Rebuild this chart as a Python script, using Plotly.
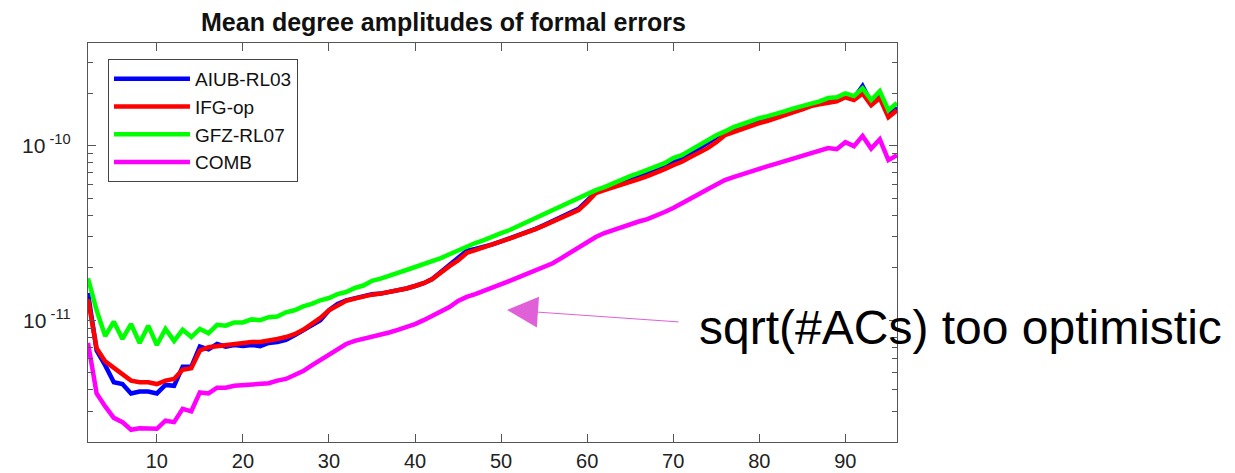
import math
import plotly.graph_objects as go

# Spherical harmonic degree
degrees = list(range(2, 97))

aiub_rl03 = [14.3e-12, 6.7e-12, 5.5e-12, 4.4e-12, 4.3e-12, 3.8e-12, 3.9e-12, 3.9e-12, 3.8e-12, 4.25e-12,
             4.2e-12, 5.4e-12, 5.4e-12, 7.05e-12, 6.8e-12, 7.3e-12, 7.05e-12, 7.2e-12, 7.1e-12, 7.2e-12,
             7.1e-12, 7.4e-12, 7.5e-12, 7.7e-12, 8.2e-12, 8.8e-12, 9.4e-12, 10.0e-12, 11.4e-12, 12.4e-12,
             13.0e-12, 13.4e-12, 13.8e-12, 14.1e-12, 14.2e-12, 14.5e-12, 14.8e-12, 15.2e-12, 15.7e-12, 16.3e-12,
             17.2e-12, 18.8e-12, 20.6e-12, 22.6e-12, 25.0e-12, 25.6e-12, 26.3e-12, 27.2e-12, 28.3e-12, 29.4e-12,
             30.6e-12, 31.8e-12, 33.4e-12, 35.1e-12, 37.0e-12, 39.0e-12, 41.2e-12, 43.5e-12, 48.5e-12, 54.0e-12,
             56.8e-12, 59.0e-12, 61.0e-12, 64.0e-12, 66.5e-12, 69.0e-12, 72.5e-12, 76.0e-12, 80.5e-12, 84.5e-12,
             90.0e-12, 96.0e-12, 104e-12, 112e-12, 118e-12, 124e-12, 129e-12, 134e-12, 139e-12, 143e-12,
             149e-12, 154e-12, 160e-12, 166e-12, 173e-12, 177e-12, 184e-12, 185e-12, 195e-12, 188e-12,
             220e-12, 176e-12, 196e-12, 152e-12, 166e-12]

ifg_op = [13.2e-12, 6.9e-12, 5.8e-12, 5.3e-12, 4.9e-12, 4.5e-12, 4.4e-12, 4.4e-12, 4.3e-12, 4.5e-12,
          4.6e-12, 5.2e-12, 5.3e-12, 6.7e-12, 7.0e-12, 7.1e-12, 7.2e-12, 7.3e-12, 7.4e-12, 7.5e-12,
          7.5e-12, 7.6e-12, 7.8e-12, 8.0e-12, 8.3e-12, 8.8e-12, 9.5e-12, 10.3e-12, 11.4e-12, 12.2e-12,
          12.9e-12, 13.3e-12, 13.7e-12, 14.0e-12, 14.2e-12, 14.5e-12, 14.8e-12, 15.2e-12, 15.7e-12, 16.3e-12,
          17.2e-12, 18.8e-12, 20.4e-12, 22.0e-12, 24.3e-12, 25.2e-12, 26.1e-12, 27.2e-12, 28.3e-12, 29.4e-12,
          30.6e-12, 31.8e-12, 33.3e-12, 34.9e-12, 36.6e-12, 38.3e-12, 40.4e-12, 42.8e-12, 47.6e-12, 53.6e-12,
          55.7e-12, 57.6e-12, 59.5e-12, 61.9e-12, 64.4e-12, 67.0e-12, 69.8e-12, 73.5e-12, 77.5e-12, 81.0e-12,
          86.2e-12, 90.8e-12, 97.0e-12, 105e-12, 115e-12, 120e-12, 125e-12, 130e-12, 135e-12, 139e-12,
          145e-12, 151e-12, 156e-12, 162e-12, 169e-12, 173e-12, 176e-12, 180e-12, 190e-12, 183e-12,
          200e-12, 171e-12, 188e-12, 146e-12, 160e-12]

gfz_rl07 = [17.4e-12, 11.4e-12, 8.1e-12, 9.8e-12, 7.8e-12, 9.5e-12, 7.4e-12, 9.3e-12, 7.2e-12, 8.9e-12,
            7.6e-12, 8.8e-12, 8.0e-12, 8.9e-12, 8.4e-12, 9.4e-12, 9.3e-12, 9.7e-12, 9.7e-12, 10.1e-12,
            10.0e-12, 10.4e-12, 10.5e-12, 11.1e-12, 11.4e-12, 12.0e-12, 12.4e-12, 13.0e-12, 13.4e-12, 14.1e-12,
            14.5e-12, 15.3e-12, 15.8e-12, 16.8e-12, 17.3e-12, 18.1e-12, 18.7e-12, 19.4e-12, 20.1e-12, 20.9e-12,
            21.8e-12, 22.7e-12, 23.9e-12, 25.2e-12, 26.6e-12, 27.7e-12, 28.8e-12, 30.4e-12, 31.6e-12, 32.9e-12,
            34.7e-12, 36.6e-12, 38.6e-12, 40.7e-12, 42.8e-12, 45.1e-12, 47.6e-12, 50.1e-12, 52.9e-12, 55.7e-12,
            58.0e-12, 61.1e-12, 63.6e-12, 67.0e-12, 69.8e-12, 72.6e-12, 76.5e-12, 79.6e-12, 85.0e-12, 88.4e-12,
            94.5e-12, 101e-12, 108e-12, 115e-12, 121e-12, 128e-12, 133e-12, 139e-12, 144e-12, 148e-12,
            154e-12, 158e-12, 164e-12, 169e-12, 176e-12, 180e-12, 188e-12, 190e-12, 200e-12, 193e-12,
            214e-12, 183e-12, 206e-12, 160e-12, 176e-12]

comb = [7.4e-12, 3.8e-12, 3.2e-12, 2.75e-12, 2.6e-12, 2.35e-12, 2.4e-12, 2.4e-12, 2.38e-12, 2.65e-12,
        2.6e-12, 3.1e-12, 3.0e-12, 3.85e-12, 3.8e-12, 4.1e-12, 4.1e-12, 4.2e-12, 4.25e-12, 4.25e-12,
        4.3e-12, 4.35e-12, 4.5e-12, 4.6e-12, 4.85e-12, 5.1e-12, 5.5e-12, 5.9e-12, 6.4e-12, 6.8e-12,
        7.3e-12, 7.6e-12, 7.8e-12, 8.0e-12, 8.2e-12, 8.5e-12, 8.8e-12, 9.1e-12, 9.5e-12, 10.0e-12,
        10.6e-12, 11.2e-12, 11.9e-12, 12.9e-12, 13.6e-12, 14.1e-12, 14.7e-12, 15.3e-12, 15.9e-12, 16.8e-12,
        17.6e-12, 18.4e-12, 19.2e-12, 20.1e-12, 21.2e-12, 22.7e-12, 24.3e-12, 25.9e-12, 28.1e-12, 30.0e-12,
        31.6e-12, 32.9e-12, 34.3e-12, 35.6e-12, 36.8e-12, 38.0e-12, 39.6e-12, 41.7e-12, 44.0e-12, 46.6e-12,
        49.5e-12, 52.9e-12, 56.4e-12, 60.3e-12, 63.6e-12, 66.2e-12, 68.9e-12, 71.6e-12, 74.0e-12, 76.5e-12,
        79.1e-12, 81.7e-12, 84.5e-12, 87.3e-12, 89.6e-12, 93.2e-12, 97.0e-12, 95.7e-12, 105e-12, 99.6e-12,
        114e-12, 96.4e-12, 109e-12, 82.8e-12, 88.4e-12]

series_names = ["AIUB-RL03", "IFG-op", "GFZ-RL07", "COMB"]
series_values = [aiub_rl03, ifg_op, gfz_rl07, comb]
series_colors = ["#0000FF", "#FF0000", "#00FF00", "#FF00FF"]

x_tick_vals = [10, 20, 30, 40, 50, 60, 70, 80, 90]
y_tick_vals = [1e-11, 1e-10]
y_tick_text = ["10<sup> -11</sup>", "10<sup> -10</sup>"]
y_minor_vals = [m * 10.0 ** e for e in (-12, -11, -10) for m in range(2, 10) if 2e-12 <= m * 10.0 ** e <= 3.9e-10]

FONT = "Liberation Sans, Arial, Helvetica, sans-serif"
AX = "#555555"

fig = go.Figure()
for name, vals, col in zip(series_names, series_values, series_colors):
    fig.add_trace(go.Scatter(x=degrees, y=vals, mode="lines", name=name,
                             line=dict(color=col, width=4.5)))

fig.update_layout(
    width=1235, height=473,
    margin=dict(l=88, r=338, t=43, b=31, autoexpand=False),
    paper_bgcolor="white", plot_bgcolor="white",
    font=dict(family=FONT, color="#222222"),
    title=dict(text="<b>Mean degree amplitudes of formal errors</b>",
               font=dict(family=FONT, size=25, color="#111111"),
               xref="paper", x=0.4394, xanchor="center",
               yref="container", y=1 - 22 / 473, yanchor="middle"),
    legend=dict(x=0.0247, y=0.96, xanchor="left", yanchor="top",
                bgcolor="white", bordercolor="#444444", borderwidth=1,
                font=dict(family=FONT, size=19, color="#111111"),
                itemwidth=76, tracegroupgap=0),
    showlegend=True,
)

fig.update_xaxes(range=[2, 96], tickvals=x_tick_vals, ticks="inside", ticklen=8,
                 tickcolor=AX, showline=True, linecolor=AX, linewidth=1.2, mirror="ticks",
                 showgrid=False, zeroline=False, ticklabelstandoff=1, automargin=False,
                 tickfont=dict(family=FONT, size=20, color="#222222"))
fig.update_yaxes(type="log", range=[math.log10(2.0e-12), math.log10(3.89e-10)],
                 tickvals=y_tick_vals, ticktext=y_tick_text, ticks="inside", ticklen=8,
                 tickcolor=AX, showline=True, linecolor=AX, linewidth=1.2, mirror="ticks",
                 showgrid=False, zeroline=False, ticklabelstandoff=12, automargin=False,
                 minor=dict(tickvals=y_minor_vals, ticks="inside", ticklen=5, tickcolor=AX, showgrid=False),
                 tickfont=dict(family=FONT, size=21, color="#222222"))

# Annotation arrow and text
fig.add_annotation(xref="paper", yref="paper", x=(507 - 88) / 809, y=(442 - 310) / 399,
                   text="", showarrow=True, arrowhead=2, arrowsize=6.2, arrowwidth=1,
                   arrowcolor="#E060D8", ax=173, ay=12, axref="pixel", ayref="pixel")
fig.add_annotation(xref="paper", yref="paper", x=(697 - 88) / 809, y=(442 - 327) / 399,
                   xanchor="left", yanchor="middle", showarrow=False,
                   text="sqrt(#ACs) too optimistic",
                   font=dict(family=FONT, size=48, color="#000000"))

fig.write_html("out.html")
